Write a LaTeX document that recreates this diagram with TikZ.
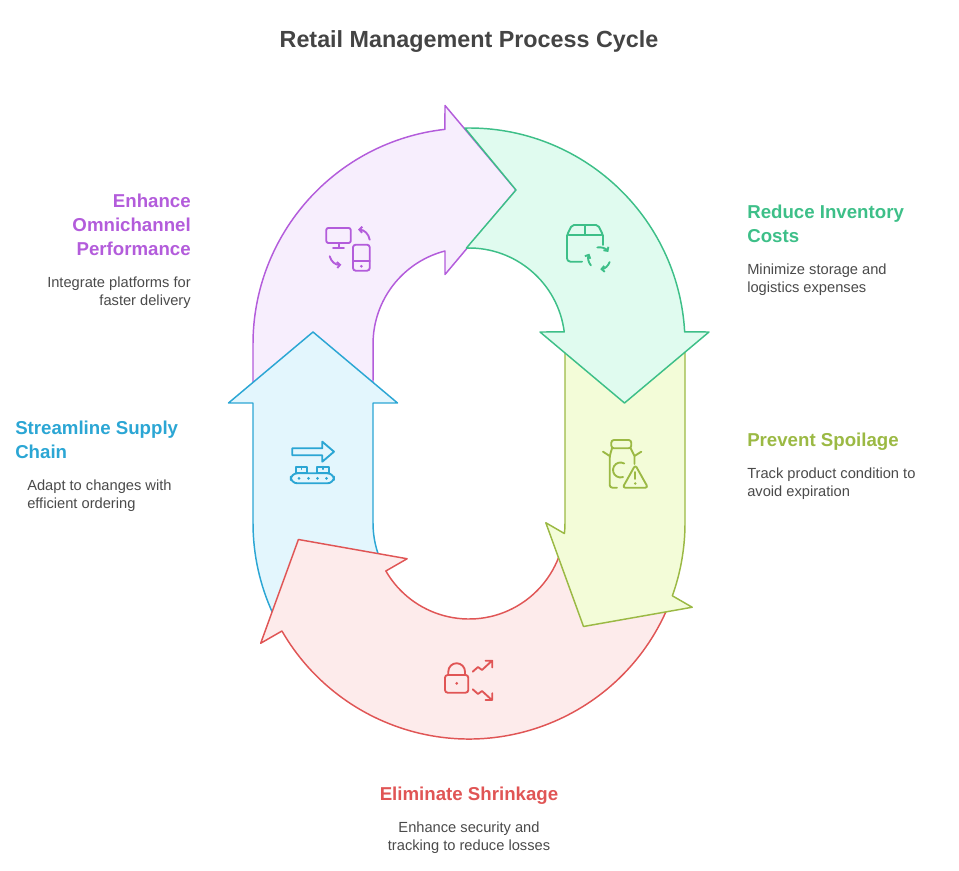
\documentclass[tikz,border=0pt]{standalone}
\usepackage{fontspec}
\setmainfont{Liberation Sans}
\usetikzlibrary{calc,arrows.meta}
\definecolor{pplD}{HTML}{B35CDB}
\definecolor{pplL}{HTML}{F7EEFD}
\definecolor{grnD}{HTML}{3DBF88}
\definecolor{grnL}{HTML}{E0FBEF}
\definecolor{ylwD}{HTML}{9BB944}
\definecolor{ylwL}{HTML}{F3FCD8}
\definecolor{redD}{HTML}{E05555}
\definecolor{redL}{HTML}{FDEBEB}
\definecolor{bluD}{HTML}{2BA6D4}
\definecolor{bluL}{HTML}{E3F6FD}
\definecolor{txtgray}{HTML}{4A4A4A}
\definecolor{ttlgray}{HTML}{444444}
\begin{document}
\begin{tikzpicture}[x=0.75pt,y=0.75pt,line join=round,
  band/.style={line width=1.1pt},
  ico/.style={line width=1.4pt,line cap=round,line join=round},
  tip/.style={-{Straight Barb[length=2.2pt,width=4.5pt]}},
  hd/.style={font=\fontsize{14}{18}\selectfont\bfseries,inner sep=0pt},
  tx/.style={font=\fontsize{11}{13.5}\selectfont,text=txtgray,inner sep=0pt}]
\useasboundingbox (0,0) rectangle (959,870);
\coordinate (T) at (469,526);
\coordinate (B) at (469,347);
\draw[band,draw=pplD,fill=pplL] (253,475) -- (253,526) arc[start angle=180,end angle=96.4,radius=216] -- (445,764.5) -- (516,680) -- (445,595.5) -- (445,619) arc[start angle=104.5,end angle=180,radius=96] -- (373,475) -- cycle;
\draw[band,draw=bluD,fill=bluL] ($(B)+(205:216)$) arc[start angle=205,end angle=180,radius=216] -- (253,467) -- (228.5,467) -- (313,538) -- (397.5,467) -- (373,467) -- (373,347) arc[start angle=180,end angle=205,radius=96] -- cycle;
\draw[band,draw=redD,fill=redL] ($(B)+(-21.8:216)$) arc[start angle=-21.8,end angle=-150,radius=216] -- (260.7,226.75) -- (298.4,330.5) -- (407.1,311.25) -- ($(B)+(210:96)$) arc[start angle=210,end angle=348.6,radius=96] -- cycle;
\draw[band,draw=ylwD,fill=ylwL] (565,526) -- (685,526) -- (685,347) arc[start angle=0,end angle=-19.7,radius=216] -- (692.2,262.75) -- (583.5,243.5) -- (545.8,347.25) -- ($(B)+(-6.3:96)$) arc[start angle=-6.3,end angle=0,radius=96] -- cycle;
\draw[band,draw=grnD,fill=grnL] ($(T)+(91.1:216)$) arc[start angle=91.1,end angle=3.2,radius=216] -- (709,538) -- (624.5,467) -- (540,538) -- ($(T)+(7.2:96)$) arc[start angle=7.2,end angle=91.55,radius=96] -- (516,680) -- cycle;
\draw[ico,pplD,rounded corners=1.5] (326.3,627) rectangle (350.7,642);
\draw[ico,pplD] (338.7,627) -- (338.7,622) (333,622) -- (344,622);
\draw[ico,pplD,rounded corners=2] (353,599.3) rectangle (369.7,625.3);
\draw[ico,pplD] (353,608.7) -- (369.7,608.7);
\fill[pplD] (361.3,603.7) circle (1.5);
\draw[ico,pplD,tip] (369.7,630.3) to[bend right=40] (358,640.3);
\draw[ico,pplD,tip] (329.7,613.7) to[bend right=40] (341.3,605.3);
\draw[ico,grnD,rounded corners=1.5] (567,635) -- (572,645) -- (598,645) -- (603,635) -- cycle;
\draw[ico,grnD] (585,645) -- (585,635);
\draw[ico,grnD,rounded corners=2.5] (567,635) -- (567,608.3) -- (582,608.3);
\draw[ico,grnD] (603,635) -- (603,625);
\foreach \k in {0,120,240}
  \draw[ico,grnD,tip] ($(599.3,611.7)+(100+\k:11)$) arc[start angle=100+\k,end angle=35+\k,radius=11];
\draw[ico,ylwD,rounded corners=2] (611.3,421.7) rectangle (631.3,430);
\draw[ico,ylwD,rounded corners=2] (612,421.7) -- (609.7,414) -- (609.7,382.3) -- (617,382.3);
\draw[ico,ylwD] (603,418.3) -- (609.7,414);
\draw[ico,ylwD] (630.6,421.7) -- (634.5,414) -- (634.5,406) (641.3,418.3) -- (634.5,414);
\draw[ico,ylwD] ($(620.5,400)+(60:7.5)$) arc[start angle=60,end angle=290,radius=7.5];
\draw[ico,ylwD,fill=ylwL,rounded corners=2] (635.3,405) -- (648,382.3) -- (622.6,382.3) -- cycle;
\draw[ico,ylwD] (635.3,398) -- (635.3,391);
\fill[ylwD] (635.3,386.5) circle (1.4);
\draw[ico,bluD] (292.3,414.7) -- (322.3,414.7) -- (322.3,408.3) -- (334,418.3) -- (322.3,428.3) -- (322.3,421.7) -- (292.3,421.7) -- cycle;
\draw[ico,bluD] (295.7,396.7) rectangle (307.3,403.3) (317.3,396.7) rectangle (329,403.3);
\draw[ico,bluD] (301.5,403.3) -- (301.5,400.8) (323.2,403.3) -- (323.2,400.8);
\draw[ico,bluD,rounded corners=5] (290.7,386.7) rectangle (334,396.7);
\foreach \x in {299,308.5,317.5,326.5}
  \fill[bluD] (\x,391.7) circle (1.5);
\draw[ico,redD,rounded corners=2] (445,177.3) rectangle (468.3,195);
\draw[ico,redD] (448.3,195) -- (448.3,198.4) arc[start angle=180,end angle=0,radius=8.35] -- (465,195);
\fill[redD] (456.7,186.7) circle (1.5);
\draw[ico,redD] (472.7,198.3) -- (478,203) -- (482,200) -- (491.5,208.8) (485.5,209.3) -- (492.3,209.3) -- (492.3,202.5);
\draw[ico,redD] (472.7,180.7) -- (478,176) -- (482,179) -- (491.5,170.3) (485.5,170) -- (492.3,170) -- (492.3,176.8);
\node[font=\fontsize{17.5}{21}\selectfont\bfseries,text=ttlgray,inner sep=0pt,anchor=north] (ttl) at (469,840) {Retail Management Process Cycle};
\node[hd,text=pplD,align=right,anchor=north east] (hdp) at (191,676) {Enhance\\Omnichannel\\Performance};
\node[tx,align=right,anchor=north east] (txp) at (191,593.5) {Integrate platforms for\\faster delivery};
\node[hd,text=bluD,align=left,anchor=north west] (hdb) at (15,449) {Streamline Supply\\Chain};
\node[tx,align=left,anchor=north west] (txb) at (27,390.5) {Adapt to changes with\\efficient ordering};
\node[hd,text=grnD,align=left,anchor=north west] (hdg) at (747,665) {Reduce Inventory\\Costs};
\node[tx,align=left,anchor=north west] (txg) at (747,606.5) {Minimize storage and\\logistics expenses};
\node[hd,text=ylwD,align=left,anchor=north west] (hdy) at (747,437) {Prevent Spoilage};
\node[tx,align=left,anchor=north west] (txy) at (747,402.5) {Track product condition to\\avoid expiration};
\node[hd,text=redD,align=center,anchor=north] (hdr) at (469,83) {Eliminate Shrinkage};
\node[tx,align=center,anchor=north] (txr) at (469,48.5) {Enhance security and\\tracking to reduce losses};
\end{tikzpicture}
\end{document}
